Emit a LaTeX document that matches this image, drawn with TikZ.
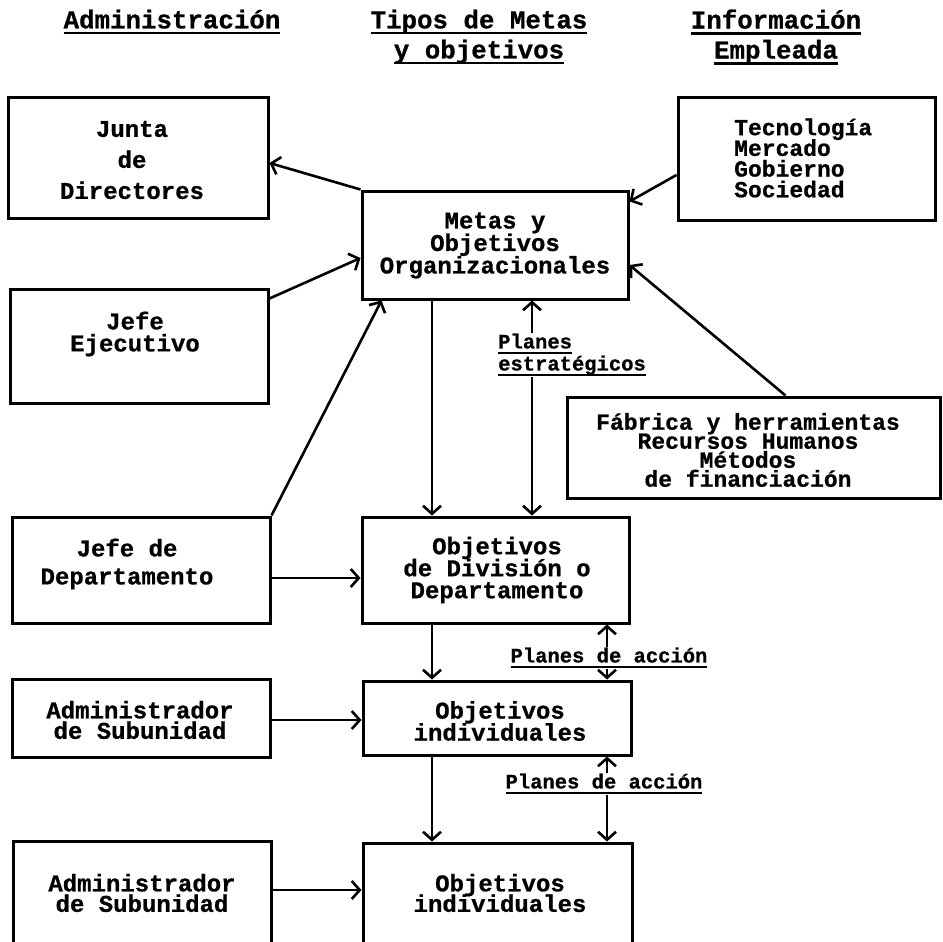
\documentclass[tikz,border=0pt]{standalone}
\usepackage{fontspec}
\setmainfont{Liberation Mono}[BoldFeatures={FakeBold=0.8}]
\usetikzlibrary{arrows.meta,calc}
\newcommand\ulbox[1]{\setbox0\hbox{#1}\rlap{\rule[-6pt]{\wd0}{2.6pt}}\box0}
\newcommand\tightlines{\lineskiplimit=-60pt\lineskip=0pt}
\tikzset{
  box/.style={draw, line width=3pt, inner sep=0pt},
  txt/.style={align=center, inner sep=0pt, font=\bfseries\fontsize{24}{22}\selectfont\tightlines},
  hdr/.style={align=center, inner sep=0pt, font=\bfseries\fontsize{25.8}{30}\selectfont\tightlines},
  lbl/.style={align=left, inner sep=0pt, font=\bfseries\fontsize{20.5}{22}\selectfont\tightlines},
  arr/.style={line width=2.6pt, -{Straight Barb[length=8pt,width=18pt]}},
}
\begin{document}
\begin{tikzpicture}[x=1pt,y=-1pt]
\useasboundingbox (0,0) rectangle (943,942);
\clip (0,0) rectangle (943,942);
% headers
\node[hdr] (h1) at (172,22) {\ulbox{Administración}};
\node[hdr] (h2) at (479,37) {\ulbox{Tipos de Metas}\\\ulbox{y objetivos}};
\node[hdr] (h3) at (776,37) {\ulbox{Información}\\\ulbox{Empleada}};
% boxes
\node[box, minimum width=260pt, minimum height=120pt] (jd) at (138,158) {};
\node[box, minimum width=257pt, minimum height=122pt] (tec) at (806.5,159) {};
\node[box, minimum width=266pt, minimum height=108pt] (metas) at (495,245) {};
\node[box, minimum width=258pt, minimum height=114pt] (je) at (139,346) {};
\node[box, minimum width=373pt, minimum height=101pt] (fab) at (753.5,447.5) {};
\node[box, minimum width=258pt, minimum height=106pt] (jdep) at (141,570) {};
\node[box, minimum width=267pt, minimum height=106pt] (div) at (495.5,570) {};
\node[box, minimum width=258pt, minimum height=78pt] (as1) at (141,718) {};
\node[box, minimum width=268pt, minimum height=74pt] (ind1) at (497,718) {};
\node[box, minimum width=258pt, minimum height=129pt] (as2) at (142,905.5) {};
\node[box, minimum width=269pt, minimum height=127pt] (ind2) at (497.5,906.5) {};
% texts
\node[txt, font=\bfseries\fontsize{24}{31}\selectfont\tightlines] (jdT) at (132,160) {Junta\\de\\Directores};
\node[txt, align=left, anchor=west, font=\bfseries\fontsize{23}{20.7}\selectfont\tightlines] (tecT) at (734,158) {Tecnología\\Mercado\\Gobierno\\Sociedad};
\node[txt, font=\bfseries\fontsize{24}{22.5}\selectfont\tightlines] (metasT) at (495,245.5) {Metas y\\Objetivos\\Organizacionales};
\node[txt] (jeT) at (135,334) {Jefe\\Ejecutivo};
\node[txt, font=\bfseries\fontsize{23}{19}\selectfont\tightlines] (fabT) at (748,450) {Fábrica y herramientas\\Recursos Humanos\\Métodos\\de financiación};
\node[txt, font=\bfseries\fontsize{24}{28}\selectfont\tightlines] (jdepT) at (127,564) {Jefe de\\Departamento};
\node[txt] (divT) at (497,570) {Objetivos\\de División o\\Departamento};
\node[txt, font=\bfseries\fontsize{24}{20.5}\selectfont\tightlines] (as1T) at (140,720) {Administrador\\de Subunidad};
\node[txt] (ind1T) at (500,721) {Objetivos\\individuales};
\node[txt, font=\bfseries\fontsize{24}{20.5}\selectfont\tightlines] (as2T) at (142,893) {Administrador\\de Subunidad};
\node[txt, font=\bfseries\fontsize{24}{20.5}\selectfont\tightlines] (ind2T) at (500,893) {Objetivos\\individuales};
% labels
\node[lbl, anchor=west] (pe) at (498,355) {\ulbox{Planes}\\\ulbox{estratégicos}};
\node[lbl] (pa1) at (609,658) {\ulbox{Planes de acción}};
\node[lbl] (pa2) at (604,784) {\ulbox{Planes de acción}};
% helper coordinates
\coordinate (cl) at (432,0);
\coordinate (cp) at (532,0);
\coordinate (ca) at (607,0);
\coordinate (r1) at (0,578);
\coordinate (r2) at (0,720);
\coordinate (r3) at (0,890);
% connectors
\draw[arr] (metas.north west) -- ([yshift=-5pt]jd.east);
\draw[arr] ([yshift=-11pt]je.north east) -- ([yshift=-13pt]metas.west);
\draw[arr] (jdep.north east) -- ([xshift=21pt]metas.south west);
\draw[arr] ([yshift=-16pt]tec.west) -- ([yshift=-12pt]metas.north east);
\draw[arr] ([xshift=32pt]fab.north) -- ([yshift=-20pt]metas.east);
\draw[arr] (metas.south -| cl) -- (div.north -| cl);
\draw[arr] (pe.north -| cp) -- (metas.south -| cp);
\draw[arr] (pe.south -| cp) -- (div.north -| cp);
\draw[arr] (jdep.east |- r1) -- (div.west |- r1);
\draw[arr] (div.south -| cl) -- (ind1.north -| cl);
\draw[arr] (pa1.north -| ca) -- (div.south -| ca);
\draw[arr] (pa1.south -| ca) -- (ind1.north -| ca);
\draw[arr] (as1.east |- r2) -- (ind1.west |- r2);
\draw[arr] (ind1.south -| cl) -- (ind2.north -| cl);
\draw[arr] (pa2.north -| ca) -- (ind1.south -| ca);
\draw[arr] (pa2.south -| ca) -- (ind2.north -| ca);
\draw[arr] (as2.east |- r3) -- (ind2.west |- r3);
\end{tikzpicture}
\end{document}
